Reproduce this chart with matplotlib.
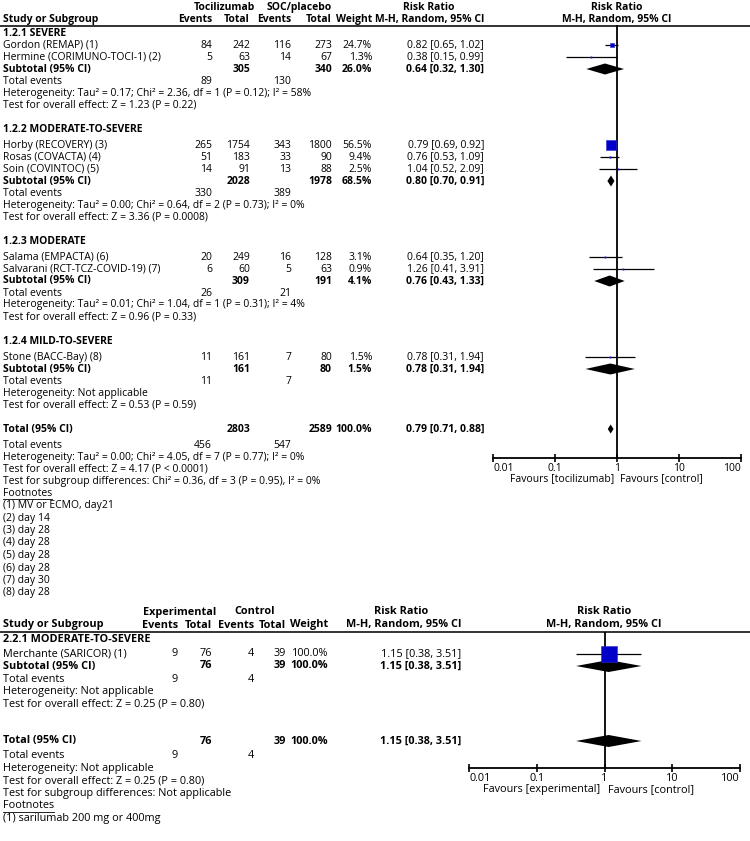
import numpy as np
import matplotlib
matplotlib.use('Agg')
import matplotlib.pyplot as plt
from matplotlib.ticker import NullLocator

plt.rcParams['font.family'] = ['Open Sans', 'DejaVu Sans']

# ------------ analysis 1.2 : tocilizumab vs SOC/placebo ------------
studies = ["Gordon (REMAP) (1)", "Hermine (CORIMUNO-TOCI-1) (2)",
           "Horby (RECOVERY) (3)", "Rosas (COVACTA) (4)", "Soin (COVINTOC) (5)",
           "Salama (EMPACTA) (6)", "Salvarani (RCT-TCZ-COVID-19) (7)",
           "Stone (BACC-Bay) (8)"]
study_group = [0, 0, 1, 1, 1, 2, 2, 3]
toci_events = [84, 5, 265, 51, 14, 20, 6, 11]
toci_total = [242, 63, 1754, 183, 91, 249, 60, 161]
soc_events = [116, 14, 343, 33, 13, 16, 5, 7]
soc_total = [273, 67, 1800, 90, 88, 128, 63, 80]
weights = [24.7, 1.3, 56.5, 9.4, 2.5, 3.1, 0.9, 1.5]
rr = [0.82, 0.38, 0.79, 0.76, 1.04, 0.64, 1.26, 0.78]
rr_lo = [0.65, 0.15, 0.69, 0.53, 0.52, 0.35, 0.41, 0.31]
rr_hi = [1.02, 0.99, 0.92, 1.09, 2.09, 1.20, 3.91, 1.94]

sub_names = ["1.2.1 SEVERE", "1.2.2 MODERATE-TO-SEVERE", "1.2.3 MODERATE", "1.2.4 MILD-TO-SEVERE"]
sub_tot1 = [305, 2028, 309, 161]
sub_tot2 = [340, 1978, 191, 80]
sub_weight = [26.0, 68.5, 4.1, 1.5]
sub_ev1 = [89, 330, 26, 11]
sub_ev2 = [130, 389, 21, 7]
sub_rr = [0.64, 0.80, 0.76, 0.78]
sub_lo = [0.32, 0.70, 0.43, 0.31]
sub_hi = [1.30, 0.91, 1.33, 1.94]
sub_het = ["Heterogeneity: Tau\u00b2 = 0.17; Chi\u00b2 = 2.36, df = 1 (P = 0.12); I\u00b2 = 58%",
           "Heterogeneity: Tau\u00b2 = 0.00; Chi\u00b2 = 0.64, df = 2 (P = 0.73); I\u00b2 = 0%",
           "Heterogeneity: Tau\u00b2 = 0.01; Chi\u00b2 = 1.04, df = 1 (P = 0.31); I\u00b2 = 4%",
           "Heterogeneity: Not applicable"]
sub_z = ["Test for overall effect: Z = 1.23 (P = 0.22)",
         "Test for overall effect: Z = 3.36 (P = 0.0008)",
         "Test for overall effect: Z = 0.96 (P = 0.33)",
         "Test for overall effect: Z = 0.53 (P = 0.59)"]

tot1, tot2, tot_ev1, tot_ev2 = 2803, 2589, 456, 547
tot_rr, tot_lo, tot_hi = 0.79, 0.71, 0.88
tot_lines = ["Heterogeneity: Tau\u00b2 = 0.00; Chi\u00b2 = 4.05, df = 7 (P = 0.77); I\u00b2 = 0%",
             "Test for overall effect: Z = 4.17 (P < 0.0001)",
             "Test for subgroup differences: Chi\u00b2 = 0.36, df = 3 (P = 0.95), I\u00b2 = 0%"]
footnotes1 = ["(1) MV or ECMO, day21", "(2) day 14", "(3) day 28", "(4) day 28",
              "(5) day 28", "(6) day 28", "(7) day 30", "(8) day 28"]

# ------------ analysis 2.2 : sarilumab ------------
studies2 = ["Merchante (SARICOR) (1)"]
exp_events = [9]
exp_total = [76]
ctl_events = [4]
ctl_total = [39]
weights2 = [100.0]
rr2, rr2_lo, rr2_hi = [1.15], [0.38], [3.51]
sub2_name = "2.2.1 MODERATE-TO-SEVERE"
footnotes2 = ["(1) sarilumab 200 mg or 400mg"]

W, H = 750, 841
fig = plt.figure(figsize=(7.5, 8.41), dpi=100)
ax = fig.add_axes([0, 0, 1, 1])
ax.set_xlim(0, W)
ax.set_ylim(H, 0)
ax.axis('off')

BLUE = '#0000C8'


def txt(x, y, s, ha='left', bold=False, size=7.5):
    return ax.text(x, y, s, ha=ha, va='center', fontsize=size,
                   fontweight='bold' if bold else 'normal', color='black')


def forest_axes(x0, x1, y0, y1, size, left_lab, right_lab, lab_gap):
    fa = fig.add_axes([x0 / W, 1 - y1 / H, (x1 - x0) / W, (y1 - y0) / H])
    fa.set_xscale('log')
    fa.set_xlim(0.01, 100)
    fa.set_ylim(y1, y0)
    fa.patch.set_alpha(0)
    for sp in ['top', 'left', 'right']:
        fa.spines[sp].set_visible(False)
    fa.spines['bottom'].set_linewidth(1.3)
    fa.set_yticks([])
    fa.set_xticks([0.01, 0.1, 1, 10, 100], ['0.01', '0.1', '1', '10', '100'])
    fa.xaxis.set_minor_locator(NullLocator())
    fa.tick_params(axis='x', direction='inout', length=6, width=1.2, pad=0.5,
                   labelsize=size)
    labs = fa.get_xticklabels()
    labs[0].set_ha('left')
    labs[-1].set_ha('right')
    fa.axvline(1, color='black', lw=1.3)
    xm = x0 + (x1 - x0) / 2
    txt(xm - lab_gap, y1 + 21 * size / 7.5, left_lab, ha='right', size=size)
    txt(xm + lab_gap, y1 + 21 * size / 7.5, right_lab, ha='left', size=size)
    return fa


def study_mark(fa, est, lo, hi, w, y):
    fa.plot([lo, hi], [y, y], color='black', lw=0.9, solid_capstyle='butt')
    side = max(0.16 * w, 1.3)
    fa.plot([est], [y], marker='s', ms=side * 0.72, mfc=BLUE, mec='#2a2ad0',
            mew=0.4, ls='none')


def diamond(fa, est, lo, hi, y, h):
    fa.fill([lo, est, hi, est], [y, y - h, y, y + h], color='black', lw=0)


def underline(t, y):
    fig.canvas.draw()
    bb = t.get_window_extent()
    ax.plot([bb.x0, bb.x1], [y, y], color='black', lw=0.6)


# ======================= top panel =======================
fs = 7.5
c_ev1, c_tot1, c_ev2, c_tot2, c_w, c_rr = 212, 250, 291, 332, 372, 484
txt(224, 7, "Tocilizumab", ha='center', bold=True)
txt(299, 7, "SOC/placebo", ha='center', bold=True)
txt(429, 7, "Risk Ratio", ha='center', bold=True)
txt(617, 7, "Risk Ratio", ha='center', bold=True)
txt(3, 19, "Study or Subgroup", bold=True)
txt(c_ev1, 19, "Events", ha='right', bold=True)
txt(c_tot1, 19, "Total", ha='right', bold=True)
txt(c_ev2, 19, "Events", ha='right', bold=True)
txt(c_tot2, 19, "Total", ha='right', bold=True)
txt(c_w, 19, "Weight", ha='right', bold=True)
txt(c_rr, 19, "M-H, Random, 95% CI", ha='right', bold=True)
txt(617, 19, "M-H, Random, 95% CI", ha='center', bold=True)
ax.plot([0, W], [25.5, 25.5], color='#222222', lw=1.3)

fa1 = forest_axes(493, 741, 25.5, 458, fs, "Favours [tocilizumab]", "Favours [control]", 3)

y = 33
for g in range(len(sub_names)):
    txt(3, y, sub_names[g], bold=True)
    y += 12 if g == 0 else 16
    for i in range(len(studies)):
        if study_group[i] != g:
            continue
        txt(3, y, studies[i])
        txt(c_ev1, y, str(toci_events[i]), ha='right')
        txt(c_tot1, y, str(toci_total[i]), ha='right')
        txt(c_ev2, y, str(soc_events[i]), ha='right')
        txt(c_tot2, y, str(soc_total[i]), ha='right')
        txt(c_w, y, "%.1f%%" % weights[i], ha='right')
        txt(c_rr, y, "%.2f [%.2f, %.2f]" % (rr[i], rr_lo[i], rr_hi[i]), ha='right')
        study_mark(fa1, rr[i], rr_lo[i], rr_hi[i], weights[i], y)
        y += 12
    txt(3, y, "Subtotal (95% CI)", bold=True)
    txt(c_tot1, y, str(sub_tot1[g]), ha='right', bold=True)
    txt(c_tot2, y, str(sub_tot2[g]), ha='right', bold=True)
    txt(c_w, y, "%.1f%%" % sub_weight[g], ha='right', bold=True)
    txt(c_rr, y, "%.2f [%.2f, %.2f]" % (sub_rr[g], sub_lo[g], sub_hi[g]), ha='right', bold=True)
    diamond(fa1, sub_rr[g], sub_lo[g], sub_hi[g], y, 5.5)
    y += 12
    txt(3, y, "Total events")
    txt(c_ev1, y, str(sub_ev1[g]), ha='right')
    txt(c_ev2, y, str(sub_ev2[g]), ha='right')
    y += 12
    txt(3, y, sub_het[g])
    y += 12
    txt(3, y, sub_z[g])
    y += 24

txt(3, y, "Total (95% CI)", bold=True)
txt(c_tot1, y, str(tot1), ha='right', bold=True)
txt(c_tot2, y, str(tot2), ha='right', bold=True)
txt(c_w, y, "100.0%", ha='right', bold=True)
txt(c_rr, y, "%.2f [%.2f, %.2f]" % (tot_rr, tot_lo, tot_hi), ha='right', bold=True)
diamond(fa1, tot_rr, tot_lo, tot_hi, y, 4.5)
y += 16
txt(3, y, "Total events")
txt(c_ev1, y, str(tot_ev1), ha='right')
txt(c_ev2, y, str(tot_ev2), ha='right')
for line in tot_lines:
    y += 12
    txt(3, y, line)
y += 12
t = txt(3, y, "Footnotes")
underline(t, y + 5.5)
for line in footnotes1:
    y += 12.5
    txt(3, y, line)

# ======================= bottom panel =======================
fs2 = 7.8
d_ev1, d_tot1, d_ev2, d_tot2, d_w, d_rr = 178, 212, 254, 286, 328, 461
txt((d_ev1 - 30 + d_tot1) / 2, 612, "Experimental", ha='center', bold=True, size=fs2)
txt((d_ev2 - 30 + d_tot2) / 2, 612, "Control", ha='center', bold=True, size=fs2)
txt(401, 612, "Risk Ratio", ha='center', bold=True, size=fs2)
txt(604, 612, "Risk Ratio", ha='center', bold=True, size=fs2)
txt(3, 625, "Study or Subgroup", bold=True, size=fs2)
txt(d_ev1, 625, "Events", ha='right', bold=True, size=fs2)
txt(d_tot1, 625, "Total", ha='right', bold=True, size=fs2)
txt(d_ev2, 625, "Events", ha='right', bold=True, size=fs2)
txt(d_tot2, 625, "Total", ha='right', bold=True, size=fs2)
txt(d_w, 625, "Weight", ha='right', bold=True, size=fs2)
txt(d_rr, 625, "M-H, Random, 95% CI", ha='right', bold=True, size=fs2)
txt(604, 625, "M-H, Random, 95% CI", ha='center', bold=True, size=fs2)
ax.plot([0, W], [632, 632], color='#222222', lw=1.3)

fa2 = forest_axes(469, 740, 632, 768, fs2, "Favours [experimental]", "Favours [control]", 4)

y = 640
txt(3, y, sub2_name, bold=True, size=fs2)
y += 13.5
for i in range(len(studies2)):
    txt(3, y, studies2[i], size=fs2)
    txt(d_ev1, y, str(exp_events[i]), ha='right', size=fs2)
    txt(d_tot1, y, str(exp_total[i]), ha='right', size=fs2)
    txt(d_ev2, y, str(ctl_events[i]), ha='right', size=fs2)
    txt(d_tot2, y, str(ctl_total[i]), ha='right', size=fs2)
    txt(d_w, y, "%.1f%%" % weights2[i], ha='right', size=fs2)
    txt(d_rr, y, "%.2f [%.2f, %.2f]" % (rr2[i], rr2_lo[i], rr2_hi[i]), ha='right', size=fs2)
    study_mark(fa2, rr2[i], rr2_lo[i], rr2_hi[i], weights2[i], y)
    y += 12.5
txt(3, y, "Subtotal (95% CI)", bold=True, size=fs2)
txt(d_tot1, y, str(sum(exp_total)), ha='right', bold=True, size=fs2)
txt(d_tot2, y, str(sum(ctl_total)), ha='right', bold=True, size=fs2)
txt(d_w, y, "100.0%", ha='right', bold=True, size=fs2)
txt(d_rr, y, "%.2f [%.2f, %.2f]" % (rr2[0], rr2_lo[0], rr2_hi[0]), ha='right', bold=True, size=fs2)
diamond(fa2, rr2[0], rr2_lo[0], rr2_hi[0], y, 6)
y += 13
txt(3, y, "Total events", size=fs2)
txt(d_ev1, y, str(sum(exp_events)), ha='right', size=fs2)
txt(d_ev2, y, str(sum(ctl_events)), ha='right', size=fs2)
y += 12.5
txt(3, y, "Heterogeneity: Not applicable", size=fs2)
y += 12.5
txt(3, y, "Test for overall effect: Z = 0.25 (P = 0.80)", size=fs2)

y = 741
txt(3, y, "Total (95% CI)", bold=True, size=fs2)
txt(d_tot1, y, str(sum(exp_total)), ha='right', bold=True, size=fs2)
txt(d_tot2, y, str(sum(ctl_total)), ha='right', bold=True, size=fs2)
txt(d_w, y, "100.0%", ha='right', bold=True, size=fs2)
txt(d_rr, y, "%.2f [%.2f, %.2f]" % (rr2[0], rr2_lo[0], rr2_hi[0]), ha='right', bold=True, size=fs2)
diamond(fa2, rr2[0], rr2_lo[0], rr2_hi[0], y, 6)
y += 15
txt(3, y, "Total events", size=fs2)
txt(d_ev1, y, str(sum(exp_events)), ha='right', size=fs2)
txt(d_ev2, y, str(sum(ctl_events)), ha='right', size=fs2)
for line in ["Heterogeneity: Not applicable",
             "Test for overall effect: Z = 0.25 (P = 0.80)",
             "Test for subgroup differences: Not applicable"]:
    y += 12.5
    txt(3, y, line, size=fs2)
y += 12.5
t = txt(3, y, "Footnotes", size=fs2)
underline(t, y + 6)
for line in footnotes2:
    y += 12.5
    txt(3, y, line, size=fs2)

fig.savefig('out.png', dpi=100)
